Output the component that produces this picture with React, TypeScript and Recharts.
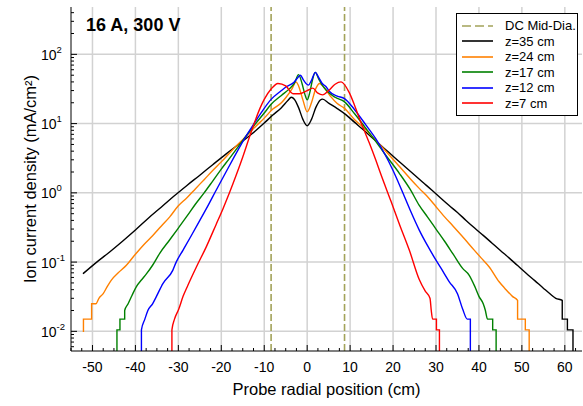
import {
  LineChart,
  Line,
  XAxis,
  YAxis,
  CartesianGrid,
  ReferenceLine,
  Legend
} from "recharts"

// probe sweeps: [radial position (cm), ion current density (mA/cm2)]
const z35: [number, number][] = [
  [-52.2, 0.068], [-49, 0.1], [-46, 0.14], [-43, 0.2], [-40, 0.29], [-37, 0.43],
  [-34, 0.62], [-31, 0.9], [-28, 1.28], [-25, 1.8], [-22, 2.55], [-19, 3.6],
  [-16, 5.0], [-13, 7.0], [-10, 10.2], [-8, 13.3], [-6, 17], [-4.5, 21.5],
  [-3.7, 24], [-3, 22.5], [-2, 17], [-1, 11.5], [0, 9.3], [1, 11.5], [2, 17],
  [3, 21.8], [3.6, 22.6], [5, 19.8], [7, 16.5], [9, 13.5], [11, 10.5], [13, 8.2],
  [15, 6.35], [17, 4.94], [19, 3.85], [21, 2.99], [23, 2.33], [25, 1.81],
  [27, 1.41], [29, 1.1], [31, 0.85], [33, 0.66], [35, 0.52], [37, 0.4], [39, 0.31],
  [41, 0.243], [43, 0.189], [45, 0.147], [47, 0.115], [49, 0.089], [51, 0.069],
  [53, 0.054], [55, 0.042], [57, 0.033], [57.9, 0.03], [59.4, 0.028],
  [59.4, 0.015], [60.6, 0.015], [60.6, 0.0105], [61.9, 0.0105], [61.9, 0.001]
]

const z24: [number, number][] = [
  [-52.1, 0.0098], [-52.1, 0.015], [-50.2, 0.015], [-50.2, 0.025], [-49.2, 0.025],
  [-48.5, 0.03], [-47.5, 0.035], [-46.5, 0.045], [-45.6, 0.055], [-44, 0.07],
  [-42.1, 0.09], [-40, 0.13], [-38, 0.18], [-36, 0.24], [-34, 0.33], [-32, 0.45],
  [-30, 0.65], [-28, 0.85], [-26, 1.15], [-24, 1.55], [-22, 2.1], [-20, 2.8],
  [-18, 3.8], [-16, 5.1], [-14, 6.8], [-12, 9.1], [-10, 12], [-8, 16.2], [-6, 20],
  [-4.9, 24], [-3.5, 32], [-2.6, 40], [-2, 35], [-1, 22], [0, 14.8], [1, 20],
  [2, 32], [2.9, 38], [4, 33], [5.5, 24.5], [7, 19.5], [8.7, 16.6], [11, 11.5],
  [13.7, 8.1], [16, 5.7], [18, 4.2], [21.5, 2.4], [24, 1.6], [26.1, 1.16],
  [28.4, 0.83], [30, 0.63], [32, 0.45], [34, 0.33], [36, 0.24], [38.9, 0.149],
  [40.5, 0.115], [42.4, 0.085], [44.7, 0.052], [46, 0.042], [47.8, 0.032],
  [49, 0.028], [49, 0.015], [50.8, 0.015], [50.8, 0.0105], [51.7, 0.0105],
  [51.7, 0.001]
]

const z17: [number, number][] = [
  [-44.3, 0.001], [-44.3, 0.0105], [-43.6, 0.0105], [-43.6, 0.015], [-42.5, 0.015],
  [-42.5, 0.02], [-41.7, 0.025], [-40.8, 0.033], [-39.8, 0.044], [-38.5, 0.056],
  [-37.4, 0.068], [-36, 0.09], [-34.3, 0.135], [-32, 0.21], [-30, 0.31], [-28, 0.46],
  [-26, 0.69], [-24, 1.0], [-22, 1.48], [-20, 2.2], [-18, 3.2], [-16, 4.7],
  [-14, 6.9], [-12, 10], [-10, 14.2], [-8.4, 19], [-6, 25.5], [-4.1, 32], [-3, 38],
  [-2, 51], [-1.2, 38], [-0.5, 26], [0, 22], [0.6, 28], [1.2, 42], [1.9, 55],
  [2.7, 44], [3.5, 36], [4.5, 30], [6.5, 24], [8.7, 20.6], [11, 14], [13.7, 8.5],
  [16, 5.5], [18, 3.7], [21.5, 1.9], [24, 1.12], [26.1, 0.66], [28, 0.45], [30, 0.3],
  [32, 0.2], [34, 0.13], [36.2, 0.081], [37.7, 0.065], [39, 0.045], [40, 0.032],
  [41, 0.025], [41.5, 0.02], [42, 0.015], [43.2, 0.015], [43.2, 0.0105],
  [44, 0.0105], [44, 0.001]
]

const z12: [number, number][] = [
  [-38.6, 0.001], [-38.6, 0.0105], [-37.8, 0.015], [-37.1, 0.02], [-36, 0.025],
  [-35.1, 0.032], [-33.6, 0.049], [-31.3, 0.076], [-30.5, 0.1], [-28.9, 0.149],
  [-27, 0.24], [-25, 0.4], [-23, 0.67], [-21.2, 1.09], [-19, 1.95], [-17, 3.3],
  [-15, 5.5], [-13, 8.7], [-11, 13.5], [-8.4, 22.4], [-6, 30], [-4.9, 34], [-3, 40],
  [-2.2, 46], [-1.6, 50], [-0.8, 42], [0.3, 36], [1, 42], [1.9, 55], [2.7, 46],
  [3.5, 38], [4.4, 34], [5.2, 29], [7, 25], [8.7, 23], [11, 16], [13.7, 9.5],
  [16, 6.0], [18, 3.7], [20, 2.1], [22, 1.1], [24, 0.56], [26.1, 0.29], [28, 0.174],
  [29.5, 0.12], [31.2, 0.081], [33.1, 0.052], [35, 0.035], [36.2, 0.021],
  [37.3, 0.015], [38, 0.015], [38, 0.001]
]

const z7: [number, number][] = [
  [-31.5, 0.001], [-31.5, 0.0105], [-30.9, 0.015], [-29.9, 0.021], [-28.9, 0.032],
  [-27.8, 0.046], [-25.8, 0.085], [-23.5, 0.166], [-21.2, 0.35], [-19.6, 0.59],
  [-18.1, 1.0], [-16.5, 1.82], [-15, 3.3], [-13.4, 6.5], [-12, 11.5], [-11, 16.6],
  [-10, 22.4], [-8.4, 31.6], [-6.8, 38], [-5, 35], [-3.3, 27], [-1.8, 27], [0, 30],
  [1.3, 32.5], [2.5, 27.5], [3.6, 26], [5, 30], [6.5, 37], [7.9, 40], [9.8, 28],
  [11, 18.6], [12.2, 11.7], [13.5, 7.4], [14.5, 5.2], [16, 2.95], [17.2, 1.82],
  [19.5, 0.76], [21.5, 0.35], [23.8, 0.148], [26.1, 0.056], [27.5, 0.038],
  [28.6, 0.03], [28.9, 0.02], [29.2, 0.015], [30.1, 0.015], [30.1, 0.0105],
  [30.8, 0.0105], [30.8, 0.001]
]

// discharge-chamber mid-diameter markers
const dcLines = [-8.4, 8.7]

const xMajor = [-50, -40, -30, -20, -10, 0, 10, 20, 30, 40, 50, 60]
const yMajor = [0.01, 0.1, 1, 10, 100]

const series = [
  { name: "z=35 cm", color: "#000000", data: z35 },
  { name: "z=24 cm", color: "#ff8000", data: z24 },
  { name: "z=17 cm", color: "#008000", data: z17 },
  { name: "z=12 cm", color: "#0000ff", data: z12 },
  { name: "z=7 cm", color: "#ff0000", data: z7 }
]

const dcColor = "#a3a35a"
const font = "'Liberation Sans', Arial, sans-serif"

// bottom axis: minor every 2.5 cm, top axis: five minors per decade of cm
const xTicks: number[] = []
for (let v = -55; v <= 62.5; v += 2.5) xTicks.push(v)
const xTopTicks: number[] = []
for (let k = 0; k <= 71; k++) xTopTicks.push(Number((-55 + (k * 10) / 6).toFixed(4)))

const yTicks: number[] = []
for (let e = -3; e <= 2; e++) {
  for (let d = 1; d <= 9; d++) {
    const v = Number((d * Math.pow(10, e)).toPrecision(3))
    if (v >= 0.0052 && v <= 483) yTicks.push(v)
  }
}

const isXMajor = (v: number) => Math.abs(v / 10 - Math.round(v / 10)) < 1e-6
const isYMajor = (v: number) => yMajor.some((m) => Math.abs(m - v) < m * 1e-6)

const BottomTick = ({ x, y, payload }: any) => {
  const major = isXMajor(payload.value)
  return (
    <g>
      <line x1={x} x2={x} y1={y} y2={y - (major ? 6 : 3)} stroke="#000" />
      {major && (
        <text x={x} y={y + 21} textAnchor="middle" fontSize={14} fill="#000">
          {payload.value}
        </text>
      )}
    </g>
  )
}

const TopTick = ({ x, y, payload }: any) => {
  const major = isXMajor(payload.value)
  return <line x1={x} x2={x} y1={y} y2={y + (major ? 6 : 3)} stroke="#000" />
}

const LeftTick = ({ x, y, payload }: any) => {
  const major = isYMajor(payload.value)
  const exp = Math.round(Math.log10(payload.value))
  return (
    <g>
      <line x1={x} x2={x + (major ? 6 : 3)} y1={y} y2={y} stroke="#000" />
      {major && (
        <text x={41} y={y + 5.5} fontSize={14} fill="#000">
          10
          <tspan dy={-7} fontSize={9.5}>{exp}</tspan>
        </text>
      )}
    </g>
  )
}

const RightTick = ({ x, y, payload }: any) => {
  const major = isYMajor(payload.value)
  return <line x1={x} x2={x - (major ? 6 : 3)} y1={y} y2={y} stroke="#000" />
}

const legendItems = [
  { name: "DC Mid-Dia.", color: dcColor, dashed: true },
  ...series.map((s) => ({ name: s.name, color: s.color, dashed: false }))
]

const LegendBox = () => (
  <div
    style={{
      width: 122,
      height: 103,
      boxSizing: "border-box",
      border: "1px solid #000",
      background: "#fff",
      paddingTop: 4,
      fontSize: 13,
      color: "#000"
    }}
  >
    {legendItems.map((it) => (
      <div key={it.name} style={{ display: "flex", alignItems: "center", height: 15.5 }}>
        <svg width={48} height={10}>
          <line
            x1={5}
            x2={36}
            y1={5}
            y2={5}
            stroke={it.color}
            strokeWidth={1.6}
            strokeDasharray={it.dashed ? "9 4" : undefined}
          />
        </svg>
        <span>{it.name}</span>
      </div>
    ))}
  </div>
)

export default function App() {
  return (
    <div style={{ position: "absolute", left: 0, top: 0, fontFamily: font }}>
      <LineChart width={583} height={406} margin={{ top: 7, right: 1, bottom: 0, left: 0 }}>
        <CartesianGrid
          horizontalValues={yMajor}
          verticalValues={xMajor}
          stroke="#d2d2d2"
          strokeWidth={1.5}
        />

        <XAxis
          type="number"
          dataKey="x"
          domain={[-55, 64]}
          allowDataOverflow
          ticks={xTicks}
          interval={0}
          height={55}
          tickLine={false}
          tickSize={0}
          tickMargin={0}
          tick={<BottomTick />}
          axisLine={{ stroke: "#000" }}
          label={{
            value: "Probe radial position (cm)",
            position: "insideBottom",
            offset: 11,
            style: { fontSize: 16.5, fill: "#000" }
          }}
        />
        <XAxis
          xAxisId="top"
          orientation="top"
          type="number"
          domain={[-55, 64]}
          allowDataOverflow
          ticks={xTopTicks}
          interval={0}
          height={0}
          tickLine={false}
          tickSize={0}
          tickMargin={0}
          tick={<TopTick />}
          axisLine={{ stroke: "#000" }}
        />
        <YAxis
          scale="log"
          type="number"
          domain={[0.0052, 483]}
          allowDataOverflow
          ticks={yTicks}
          interval={0}
          width={71}
          tickLine={false}
          tickSize={0}
          tickMargin={0}
          tick={<LeftTick />}
          axisLine={{ stroke: "#000" }}
          label={{
            value: "Ion current density (mA/cm²)",
            angle: -90,
            position: "insideLeft",
            offset: 30,
            style: { textAnchor: "middle", fontSize: 16.5, fill: "#000" }
          }}
        />
        <YAxis
          yAxisId="right"
          orientation="right"
          scale="log"
          type="number"
          domain={[0.0052, 483]}
          allowDataOverflow
          ticks={yTicks}
          interval={0}
          width={0}
          tickLine={false}
          tickSize={0}
          tickMargin={0}
          tick={<RightTick />}
          axisLine={{ stroke: "#000" }}
        />

        {dcLines.map((x) => (
          <ReferenceLine
            key={x}
            x={x}
            stroke={dcColor}
            strokeWidth={1.6}
            strokeDasharray="7 3"
          />
        ))}

        {series.map((s) => (
          <Line
            key={s.name}
            name={s.name}
            data={s.data.map(([x, y]) => ({ x, y }))}
            dataKey="y"
            type="monotone"
            stroke={s.color}
            strokeWidth={1.4}
            dot={false}
            activeDot={false}
            isAnimationActive={false}
          />
        ))}

        <Legend
          layout="vertical"
          align="center"
          verticalAlign="middle"
          content={<LegendBox />}
          wrapperStyle={{ left: 456, top: 13, width: 122, height: 103 }}
        />
      </LineChart>

      <div
        style={{
          position: "absolute",
          left: 86,
          top: 16,
          fontSize: 18,
          lineHeight: "18px",
          fontWeight: "bold",
          color: "#000"
        }}
      >
        16 A, 300 V
      </div>
    </div>
  )
}
